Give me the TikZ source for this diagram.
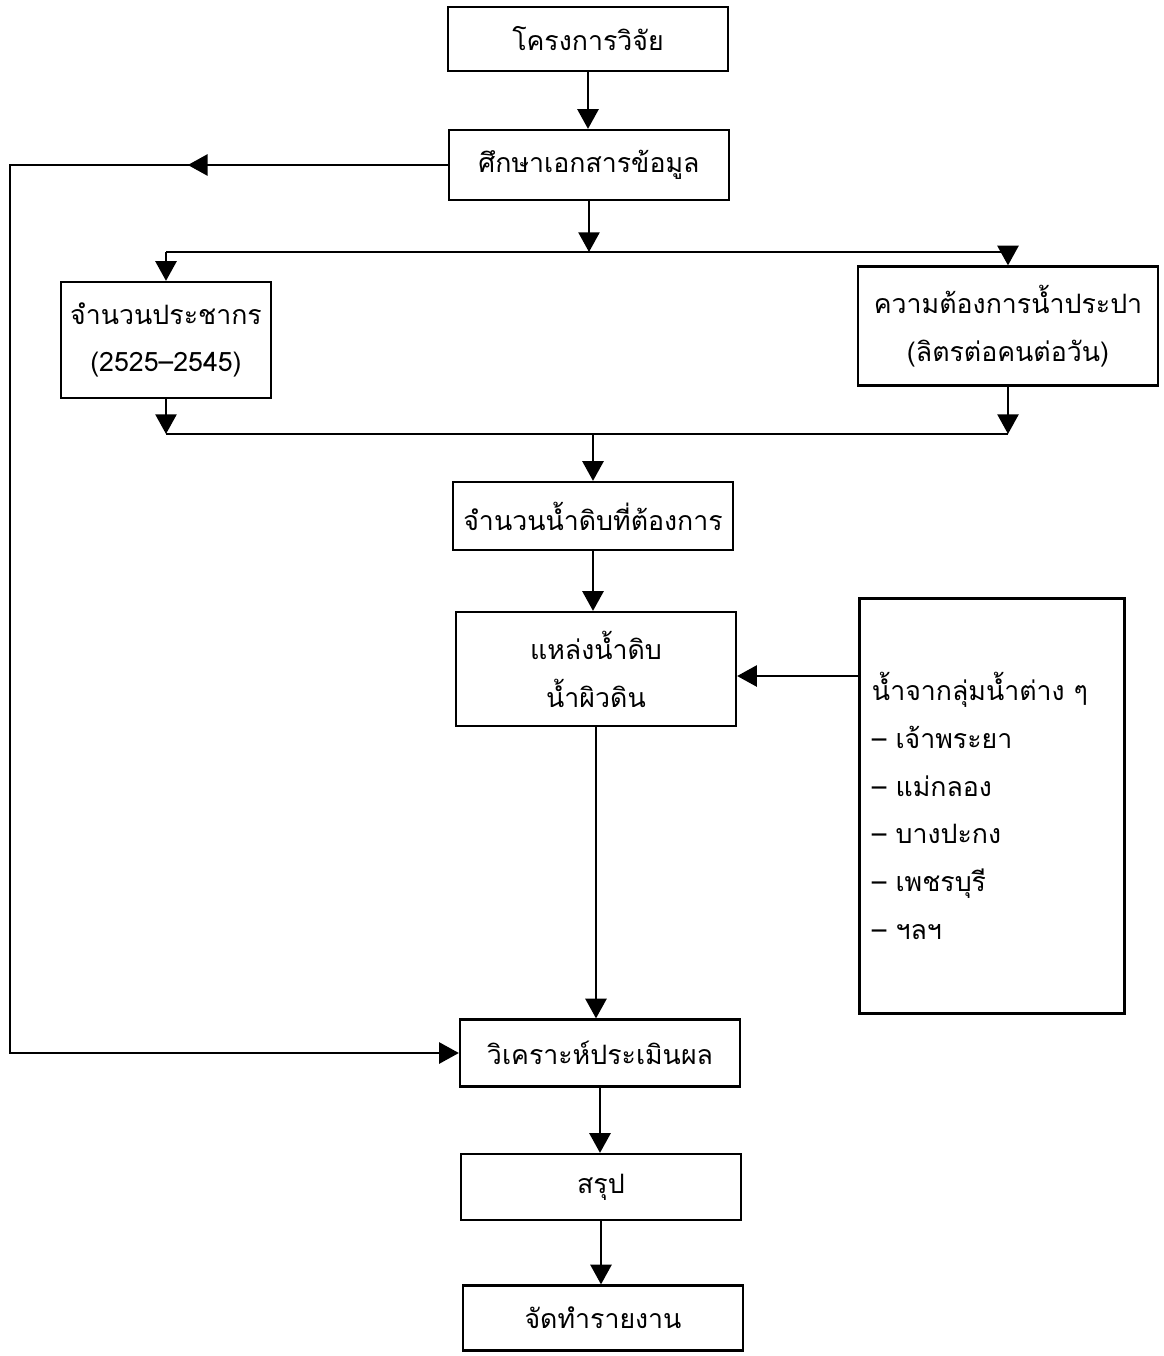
\documentclass[tikz,border=0pt]{standalone}
\usepackage{fontspec}
\newfontfamily\thaifont[Script=Thai]{Loma}
\usetikzlibrary{arrows.meta}

\begin{document}
\begin{tikzpicture}[x=0.025cm, y=-0.025cm,
	box/.style={draw, line width=1.6pt, inner sep=0pt, align=center,
		font=\thaifont\fontsize{19}{34}\selectfont},
	arr/.style={line width=1.6pt, -{Triangle[width=15pt,length=14pt]}},
	link/.style={line width=1.6pt}]

	\def \bw {7cm}

	\useasboundingbox (0,0) rectangle (1164,1356);

	% main column
	\node[box, minimum width=\bw, minimum height=1.6cm] (project) at (588,39) {โครงการวิจัย};
	\node[box, minimum width=\bw, minimum height=1.75cm] (study) at (589,165) {ศึกษาเอกสารข้อมูล};
	\node[box, minimum width=5.25cm, minimum height=2.9cm] (population) at (166,340)
		{จำนวนประชากร\\(2525–2545)};
	\node[box, minimum width=7.5cm, minimum height=2.975cm] (demand) at (1008,326)
		{ความต้องการน้ำประปา\\(ลิตรต่อคนต่อวัน)};
	\node[box, minimum width=\bw, minimum height=1.7cm] (rawwater) at (593,516) {จำนวนน้ำดิบที่ต้องการ};
	\node[box, minimum width=\bw, minimum height=2.85cm] (source) at (596,669)
		{แหล่งน้ำดิบ\\น้ำผิวดิน};
	\node[box, minimum width=6.625cm, minimum height=10.375cm, align=left,
		text width=6.0cm] (basins) at (992,806)
		{น้ำจากลุ่มน้ำต่าง ๆ\\– เจ้าพระยา\\– แม่กลอง\\– บางปะกง\\– เพชรบุรี\\– ฯลฯ};
	\node[box, minimum width=\bw, minimum height=1.675cm] (analysis) at (600,1053) {วิเคราะห์ประเมินผล};
	\node[box, minimum width=\bw, minimum height=1.65cm] (summary) at (601,1187) {สรุป};
	\node[box, minimum width=\bw, minimum height=1.625cm] (report) at (603,1318) {จัดทำรายงาน};

	\coordinate (split) at (582,252);
	\coordinate (join) at (588,434);
	\coordinate (back) at (10,0);

	\draw[arr] (project) -- (project |- study.north);
	\draw[arr] (study.south) -- (study.south |- split);
	\draw[link] (population.north |- split) -- (demand.north |- split);
	\draw[arr] (population.north |- split) -- (population.north);
	\draw[arr] (demand.north |- split) -- (demand.north);
	\draw[arr] (population.south) -- (population.south |- join);
	\draw[arr] (demand.south) -- (demand.south |- join);
	\draw[link] (population.south |- join) -- (demand.south |- join);
	\draw[arr] (rawwater.north |- join) -- (rawwater.north);
	\draw[arr] (rawwater.south) -- (rawwater.south |- source.north);
	\draw[arr] (basins.west |- 0,676) -- (source.east |- 0,676);
	\draw[arr] (source.south) -- (source.south |- analysis.north);
	\draw[arr] (analysis.south) -- (analysis.south |- summary.north);
	\draw[arr] (summary.south) -- (summary.south |- report.north);

	% loop back to the analysis
	\draw[arr] (study.west) -- ++(-260,0);
	\draw[arr] (study.west) -- (study.west -| back) |- (analysis.west);

\end{tikzpicture}
\end{document}
